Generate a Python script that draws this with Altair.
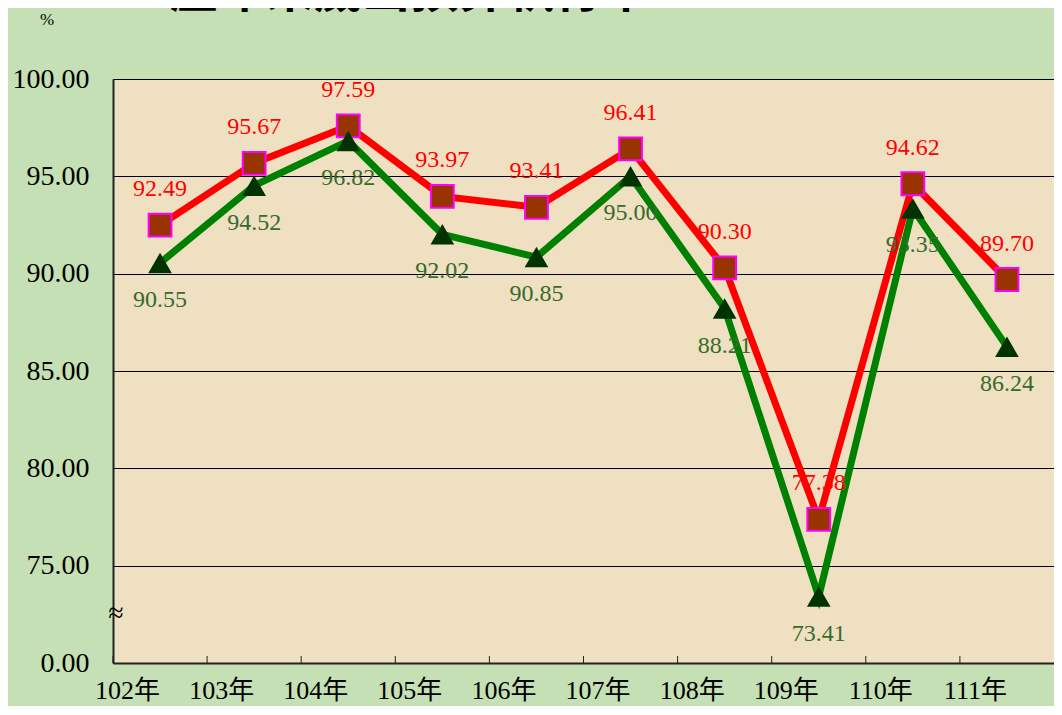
import altair as alt
import pandas as pd

years = ["102年", "103年", "104年", "105年", "106年", "107年", "108年", "109年", "110年", "111年"]
red_values = [92.49, 95.67, 97.59, 93.97, 93.41, 96.41, 90.30, 77.38, 94.62, 89.70]
green_values = [90.55, 94.52, 96.82, 92.02, 90.85, 95.00, 88.21, 73.41, 93.35, 86.24]
y_ticks = [70, 75, 80, 85, 90, 95, 100]
title_text = "歷年來歲出預算執行率"

df = pd.DataFrame({"year": years, "red": red_values, "green": green_values})

W, H = 941, 584
SERIF = "Liberation Serif"
SERIF_CJK = "Liberation Serif, Noto Sans CJK TC"

x_enc = alt.X("year:N", sort=years,
              scale=alt.Scale(type="band", paddingInner=0, paddingOuter=0),
              axis=alt.Axis(title=None, labelFont=SERIF_CJK, labelFontSize=26, labelColor="black",
                            labelPadding=27, ticks=False, domainColor="#222", domainWidth=2,
                            labelAngle=0, grid=False))
y_scale = alt.Scale(domain=[70, 100], nice=False, zero=False)

base = alt.Chart(df)

red_line = base.mark_line(color="#ff0000", strokeWidth=7).encode(
    x=x_enc,
    y=alt.Y("red:Q", scale=y_scale,
            axis=alt.Axis(title=None, values=y_ticks,
                          labelExpr="datum.value == 70 ? '0.00' : format(datum.value, '.2f')",
                          labelFont=SERIF, labelFontSize=28, labelColor="black", labelPadding=24,
                          ticks=False, domainColor="#222", domainWidth=2,
                          grid=True, gridColor="#000", gridWidth=1, gridOpacity=1)))
red_pts = base.mark_point(shape="square", size=520, filled=True, fill="#993300",
                          stroke="#ff00ff", strokeWidth=2, opacity=1).encode(
    x=alt.X("year:N", sort=years), y=alt.Y("red:Q", scale=y_scale))
green_line = base.mark_line(color="#008000", strokeWidth=7).encode(
    x=alt.X("year:N", sort=years), y=alt.Y("green:Q", scale=y_scale))
green_pts = base.mark_point(shape="triangle-up", size=560, filled=True, fill="#003300",
                            opacity=1).encode(
    x=alt.X("year:N", sort=years), y=alt.Y("green:Q", scale=y_scale))

red_lbl = base.mark_text(font=SERIF, fontSize=24, color="#ff0000", dy=-36, baseline="middle").encode(
    x=alt.X("year:N", sort=years), y=alt.Y("red:Q", scale=y_scale),
    text=alt.Text("red:Q", format=".2f"))
green_lbl = base.mark_text(font=SERIF, fontSize=24, color="#386a2c", dy=37, baseline="middle").encode(
    x=alt.X("year:N", sort=years), y=alt.Y("green:Q", scale=y_scale),
    text=alt.Text("green:Q", format=".2f"))

ticks = base.mark_rule(color="#222", strokeWidth=1).encode(
    x=alt.X("year:N", sort=years, bandPosition=0),
    y=alt.value(H), y2=alt.value(H - 7))

title = alt.Chart(pd.DataFrame({"t": [title_text]})).mark_text(
    font="Noto Sans CJK TC", fontSize=48, fontWeight="bold", color="black",
    align="center", baseline="bottom").encode(
    text="t:N", x=alt.value(297), y=alt.value(-62))
pct = alt.Chart(pd.DataFrame({"t": ["%"]})).mark_text(
    font=SERIF, fontSize=17, color="black", align="center", baseline="middle").encode(
    text="t:N", x=alt.value(-66), y=alt.value(-59))
brk = alt.Chart(pd.DataFrame({"t": ["≈"]})).mark_text(
    font=SERIF, fontSize=28, color="black", align="center", baseline="middle").encode(
    text="t:N", x=alt.value(3), y=alt.value(535))

chart = alt.layer(ticks, red_line, red_pts, green_line, green_pts, red_lbl, green_lbl,
                  title, pct, brk).properties(
    width=W, height=H,
    autosize=alt.AutoSizeParams(type="none"),
    padding={"left": 105, "top": 71, "right": 0, "bottom": 43},
    background="#c5e0b4",
).configure_view(fill="#efe0c1", stroke="#333", strokeWidth=1)

chart.save("out.html", embed_options={"renderer": "svg", "actions": False})
